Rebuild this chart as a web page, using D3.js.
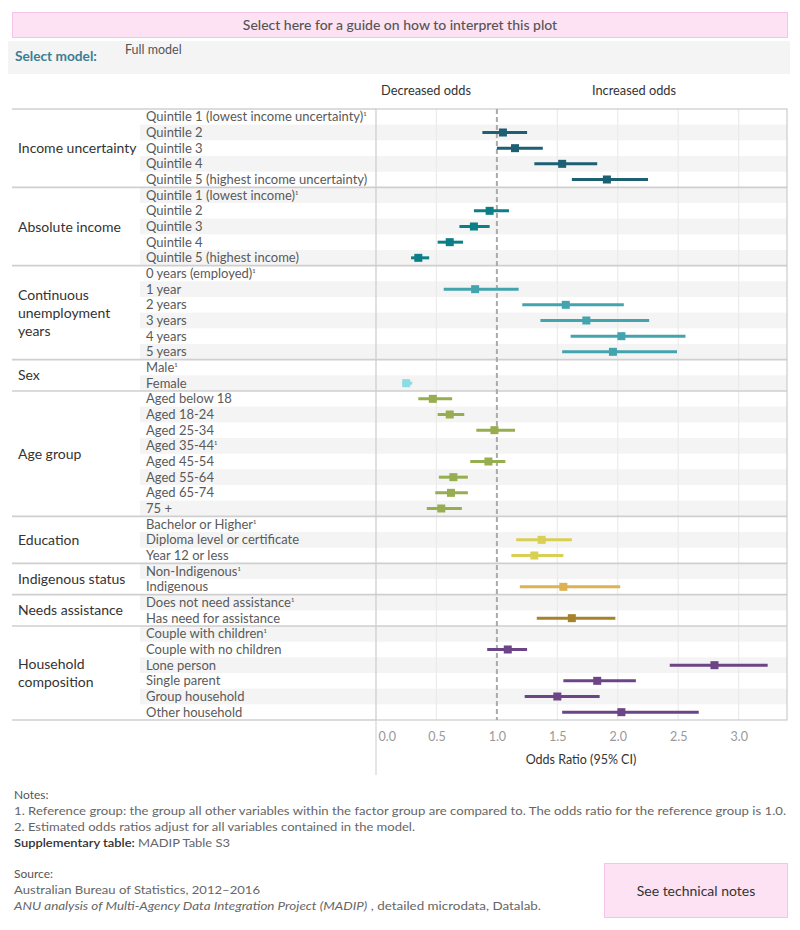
<!DOCTYPE html>
<html>
<head>
<meta charset="utf-8">
<script src="https://cdn.jsdelivr.net/npm/d3@7"></script>
<style>
  body { margin: 0; background: #fff; font-family: Lato, "Noto Sans", sans-serif; }
  svg text { font-family: Lato, "Noto Sans", sans-serif; }
</style>
</head>
<body>
<div id="chart"></div>
<script>

let svgWidth = 800;
let svgHeight = 930;

// factor groups, the label lines shown in the left column, and the mark colour of each
let groupNames = ["Income uncertainty", "Absolute income", "Continuous unemployment years", "Sex",
  "Age group", "Education", "Indigenous status", "Needs assistance", "Household composition"];
let groupLines = [["Income uncertainty"], ["Absolute income"], ["Continuous", "unemployment", "years"], ["Sex"],
  ["Age group"], ["Education"], ["Indigenous status"], ["Needs assistance"], ["Household", "composition"]];
let groupColors = ["#1d5f73", "#0b7f87", "#43a4ae", "#8ddce3", "#96ad50", "#d8cf55", "#dcb254", "#a7822d", "#6b4586"];

// one entry per row (group index, label, reference group flag)
let rowGroup = [0,0,0,0,0, 1,1,1,1,1, 2,2,2,2,2,2, 3,3, 4,4,4,4,4,4,4,4, 5,5,5, 6,6, 7,7, 8,8,8,8,8,8];
let rowLabels = [
  "Quintile 1 (lowest income uncertainty)", "Quintile 2", "Quintile 3", "Quintile 4", "Quintile 5 (highest income uncertainty)",
  "Quintile 1 (lowest income)", "Quintile 2", "Quintile 3", "Quintile 4", "Quintile 5 (highest income)",
  "0 years (employed)", "1 year", "2 years", "3 years", "4 years", "5 years",
  "Male", "Female",
  "Aged below 18", "Aged 18-24", "Aged 25-34", "Aged 35-44", "Aged 45-54", "Aged 55-64", "Aged 65-74", "75 +",
  "Bachelor or Higher", "Diploma level or certificate", "Year 12 or less",
  "Non-Indigenous", "Indigenous",
  "Does not need assistance", "Has need for assistance",
  "Couple with children", "Couple with no children", "Lone person", "Single parent", "Group household", "Other household"
];
let isReference = [1,0,0,0,0, 1,0,0,0,0, 1,0,0,0,0,0, 1,0, 0,0,0,1,0,0,0,0, 1,0,0, 1,0, 1,0, 1,0,0,0,0,0];

// odds ratio and 95% CI (null for reference groups)
let oddsRatio = [null,1.05,1.15,1.54,1.91, null,0.94,0.81,0.61,0.35, null,0.82,1.57,1.74,2.03,1.96,
  null,0.25, 0.47,0.61,0.98,null,0.93,0.64,0.62,0.54, null,1.37,1.31, null,1.55, null,1.62,
  null,1.09,2.80,1.83,1.50,2.03];
let ciLow = [null,0.88,1.00,1.31,1.62, null,0.81,0.69,0.51,0.29, null,0.56,1.21,1.36,1.61,1.54,
  null,0.22, 0.35,0.51,0.83,null,0.78,0.52,0.49,0.42, null,1.16,1.12, null,1.19, null,1.33,
  null,0.92,2.43,1.55,1.23,1.54];
let ciHigh = [null,1.25,1.38,1.83,2.25, null,1.10,0.94,0.72,0.44, null,1.18,2.05,2.26,2.56,2.49,
  null,0.30, 0.63,0.73,1.15,null,1.07,0.76,0.76,0.71, null,1.62,1.55, null,2.02, null,1.98,
  null,1.25,3.24,2.15,1.85,2.67];

let xTicks = [0, 0.5, 1, 1.5, 2, 2.5, 3];

let rows = rowLabels.map(function(d, i){
  return {id: i, label: d, group: rowGroup[i], ref: isReference[i] == 1,
    or: oddsRatio[i], lo: ciLow[i], hi: ciHigh[i]};
});

let svg = d3.select("#chart")
  .append("svg")
    .attr("width", svgWidth)
    .attr("height", svgHeight);

// plot geometry
let plotLeft = 376, plotRight = 787, plotTop = 109, plotBottom = 720;
let labelLeft = 12, rowLabelX = 140;

let x = d3.scaleLinear().domain([0, 3.4]).range([plotLeft, plotRight]);
let y = d3.scaleBand().domain(rows.map(d => d.id)).range([plotTop, plotBottom]);

// top guide button
svg.append("rect")
  .attr("x", 12.5).attr("y", 12.5).attr("width", 775).attr("height", 25)
  .attr("fill", "#fde2f3").attr("stroke", "#f7c3e8");
svg.append("text")
  .attr("x", 400).attr("y", 30)
  .attr("text-anchor", "middle")
  .attr("font-size", 14).attr("font-weight", 500).attr("fill", "#555")
  .text("Select here for a guide on how to interpret this plot");

// model selector panel
svg.append("rect")
  .attr("x", 8).attr("y", 41).attr("width", 782).attr("height", 33)
  .attr("fill", "#f4f4f4");
svg.append("text")
  .attr("x", 15).attr("y", 60.5)
  .attr("font-size", 13.7).attr("font-weight", 700).attr("fill", "#3a7f95")
  .text("Select model:");
svg.append("text")
  .attr("x", 125).attr("y", 54)
  .attr("font-size", 12.5).attr("fill", "#555")
  .text("Full model");

// column headers
svg.append("text")
  .attr("x", 426).attr("y", 94.5).attr("text-anchor", "middle")
  .attr("font-size", 12.8).attr("fill", "#333")
  .text("Decreased odds");
svg.append("text")
  .attr("x", 634).attr("y", 94.5).attr("text-anchor", "middle")
  .attr("font-size", 12.8).attr("fill", "#333")
  .text("Increased odds");

// row banding (label column and plot)
svg.append("g").selectAll("rect").data(rows.filter(d => d.id % 2 == 1))
  .enter().append("rect")
    .attr("x", rowLabelX).attr("y", d => y(d.id))
    .attr("width", plotRight - rowLabelX).attr("height", y.bandwidth())
    .attr("fill", "#f4f4f4");

// gridlines
svg.append("g").selectAll("line").data(xTicks.filter(d => d != 0 && d != 1))
  .enter().append("line")
    .attr("x1", d => x(d)).attr("x2", d => x(d))
    .attr("y1", plotTop).attr("y2", plotBottom)
    .attr("stroke", "#ebebeb").attr("stroke-width", 1.2);

// group separators
let groupStarts = [];
rows.forEach(function(d, i){
  if(i == 0 || rows[i-1].group != d.group){
    groupStarts.push(d);
  }
});
svg.append("g").selectAll("line").data(groupStarts.slice(1))
  .enter().append("line")
    .attr("x1", labelLeft).attr("x2", plotRight)
    .attr("y1", d => y(d.id)).attr("y2", d => y(d.id))
    .attr("stroke", "#cfcfcf").attr("stroke-width", 1.6);

// top and bottom rules of the label column
svg.append("line")
  .attr("x1", labelLeft).attr("x2", plotLeft).attr("y1", plotTop).attr("y2", plotTop)
  .attr("stroke", "#dcdcdc").attr("stroke-width", 2);
svg.append("line")
  .attr("x1", labelLeft).attr("x2", plotLeft).attr("y1", plotBottom).attr("y2", plotBottom)
  .attr("stroke", "#cfcfcf").attr("stroke-width", 1.6);

// plot border
svg.append("rect")
  .attr("x", plotLeft).attr("y", plotTop)
  .attr("width", plotRight - plotLeft).attr("height", plotBottom - plotTop)
  .attr("fill", "none").attr("stroke", "#cbcbcb").attr("stroke-width", 1.2);
svg.append("line")
  .attr("x1", plotLeft).attr("x2", plotLeft).attr("y1", plotBottom).attr("y2", 775)
  .attr("stroke", "#d6d6d6").attr("stroke-width", 1.2);

// reference line at OR = 1
svg.append("line")
  .attr("x1", x(1)).attr("x2", x(1))
  .attr("y1", plotTop).attr("y2", plotBottom)
  .attr("stroke", "#aaa").attr("stroke-width", 2)
  .attr("stroke-dasharray", "5,3");

// group labels
let groupLabel = svg.append("g").selectAll("text").data(groupStarts)
  .enter().append("text")
    .attr("x", 18)
    .attr("font-size", 14).attr("fill", "#333")
    .attr("y", function(d){
      let n = rows.filter(r => r.group == d.group).length;
      let mid = y(d.id) + n * y.bandwidth() / 2;
      let lines = groupLines[d.group].length;
      return mid + 5 - (lines - 1) * 18 / 2;
    });
groupLabel.selectAll("tspan").data(d => groupLines[d.group])
  .enter().append("tspan")
    .attr("x", 18)
    .attr("dy", (d, i) => i == 0 ? 0 : 18)
    .text(d => d);

// row labels
let rowText = svg.append("g").selectAll("text").data(rows)
  .enter().append("text")
    .attr("x", 146)
    .attr("y", d => y(d.id) + y.bandwidth() / 2 + 4.5)
    .attr("font-size", 13).attr("fill", "#5a5a5a")
    .text(d => d.label);
rowText.filter(d => d.ref).append("tspan")
  .attr("font-size", 10).attr("dy", -1)
  .text("\u00b9");

// confidence intervals and point estimates
let est = rows.filter(d => d.or != null);
svg.append("g").selectAll("line").data(est)
  .enter().append("line")
    .attr("x1", d => x(d.lo)).attr("x2", d => x(d.hi))
    .attr("y1", d => y(d.id) + y.bandwidth() / 2)
    .attr("y2", d => y(d.id) + y.bandwidth() / 2)
    .attr("stroke", d => groupColors[d.group])
    .attr("stroke-width", 3);
svg.append("g").selectAll("rect").data(est)
  .enter().append("rect")
    .attr("x", d => x(d.or) - 4)
    .attr("y", d => y(d.id) + y.bandwidth() / 2 - 4)
    .attr("width", 8).attr("height", 8)
    .attr("fill", d => groupColors[d.group]);

// x axis
let xAxis = svg.append("g")
  .attr("transform", "translate(0," + plotBottom + ")")
  .call(d3.axisBottom(x).tickValues(xTicks).tickFormat(d3.format(".1f")).tickSize(0).tickPadding(12));
xAxis.select(".domain").remove();
xAxis.selectAll("text")
  .attr("font-size", 12.5).attr("fill", "#999")
  .attr("font-family", "Lato, sans-serif")
  .attr("text-anchor", d => d == 0 ? "start" : "middle")
  .attr("dx", d => d == 0 ? 2 : 0);
svg.append("text")
  .attr("x", 581).attr("y", 764).attr("text-anchor", "middle")
  .attr("font-size", 12.5).attr("fill", "#333")
  .text("Odds Ratio (95% CI)");

// notes and source
let notes = svg.append("g").attr("font-size", 12).attr("fill", "#666");
notes.append("text").attr("x", 14).attr("y", 799).attr("fill", "#555").text("Notes:");
notes.append("text").attr("x", 14).attr("y", 815)
  .attr("textLength", 772).attr("lengthAdjust", "spacingAndGlyphs")
  .text("1. Reference group: the group all other variables within the factor group are compared to. The odds ratio for the reference group is 1.0.");
notes.append("text").attr("x", 14).attr("y", 831)
  .attr("textLength", 401).attr("lengthAdjust", "spacingAndGlyphs")
  .text("2. Estimated odds ratios adjust for all variables contained in the model.");
let supp = notes.append("text").attr("x", 14).attr("y", 847)
  .attr("textLength", 216).attr("lengthAdjust", "spacingAndGlyphs");
supp.append("tspan").attr("fill", "#333").attr("font-weight", 600).text("Supplementary table: ");
supp.append("tspan").text("MADIP Table S3");

notes.append("text").attr("x", 14).attr("y", 878).attr("fill", "#555").text("Source:");
notes.append("text").attr("x", 14).attr("y", 894)
  .attr("textLength", 246).attr("lengthAdjust", "spacingAndGlyphs")
  .text("Australian Bureau of Statistics, 2012\u20132016");
let anu = notes.append("text").attr("x", 14).attr("y", 910)
  .attr("textLength", 527).attr("lengthAdjust", "spacingAndGlyphs");
anu.append("tspan").attr("font-style", "italic")
  .text("ANU analysis of Multi-Agency Data Integration Project (MADIP)");
anu.append("tspan").text(" , detailed microdata, Datalab.");

// technical notes button
svg.append("rect")
  .attr("x", 604.5).attr("y", 863.5).attr("width", 183).attr("height", 54)
  .attr("fill", "#fde2f3").attr("stroke", "#f7c3e8");
svg.append("text")
  .attr("x", 696).attr("y", 895.5).attr("text-anchor", "middle")
  .attr("font-size", 14).attr("fill", "#333")
  .text("See technical notes");

</script>
</body>
</html>
